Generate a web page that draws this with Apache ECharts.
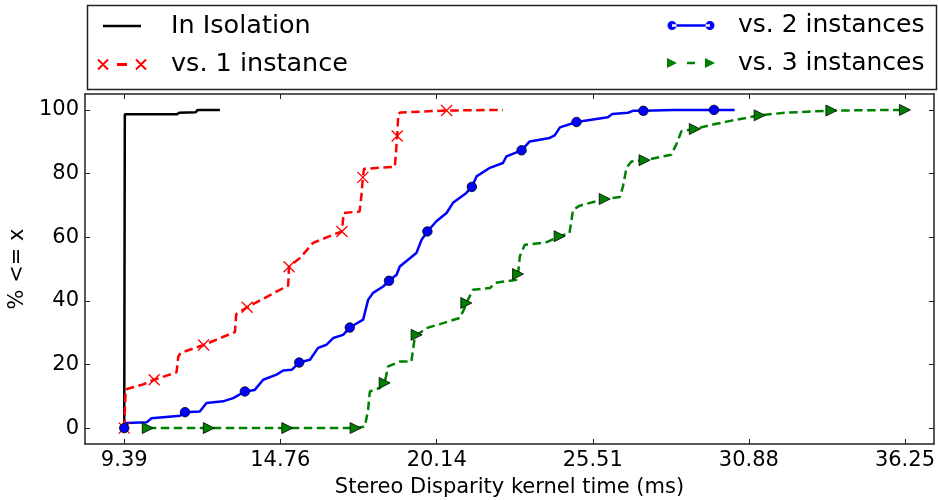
<!DOCTYPE html>
<html>
<head>
<meta charset="utf-8">
<title>Stereo Disparity kernel time</title>
<script src="https://cdn.jsdelivr.net/npm/echarts@6/dist/echarts.min.js"></script>
<style>
  html, body { margin: 0; padding: 0; background: #fff; }
  #chart { width: 938px; height: 500px; }
</style>
</head>
<body>
<div id="chart"></div>
<script>
// axis ticks
const xTicks = [9.39, 14.76, 20.14, 25.51, 30.88, 36.25];
const yTicks = [0, 20, 40, 60, 80, 100];

const names = ["In Isolation", "vs. 1 instance", "vs. 2 instances", "vs. 3 instances"];

// [time (ms), % <= x]
const isolation = [
  [9.39, 0], [9.41, 98.6], [11.2, 98.6], [11.28, 99.1], [11.85, 99.3], [11.92, 100], [12.68, 100]
];
const oneInstance = [
  [9.39, 0], [9.44, 12.2], [10.0, 13.6], [10.42, 15.2], [11.19, 17.5], [11.25, 22.5], [11.34, 23.7],
  [12.12, 26.1], [13.2, 30.2], [13.24, 35.8], [13.62, 38.0], [15.03, 44.8], [15.06, 50.7],
  [15.44, 53.5], [15.89, 58.2], [16.58, 60.8], [16.88, 61.8], [16.94, 67.6], [17.49, 68.1],
  [17.56, 74.0], [17.6, 78.8], [17.64, 81.5], [18.7, 82.1], [18.75, 88.0], [18.78, 91.8],
  [18.82, 98.8], [18.9, 99.2], [20.48, 99.8], [22.42, 100]
];
const twoInstances = [
  [9.39, 0], [9.47, 1.6], [10.16, 1.8], [10.33, 3.1], [11.31, 3.9], [11.48, 5.0], [11.99, 5.2],
  [12.22, 7.9], [12.79, 8.4], [13.14, 9.4], [13.54, 11.5], [13.88, 12.0], [14.17, 15.2],
  [14.63, 16.8], [14.86, 18.1], [15.15, 18.3], [15.41, 20.6], [15.78, 21.5], [16.06, 25.2],
  [16.35, 26.2], [16.58, 28.3], [16.92, 29.3], [17.15, 31.6], [17.61, 34.1], [17.78, 40.3],
  [17.95, 42.5], [18.3, 44.5], [18.5, 46.3], [18.76, 48.2], [18.87, 50.8], [19.44, 55.0],
  [19.62, 59.2], [19.82, 61.8], [20.13, 65.0], [20.48, 67.6], [20.7, 70.8], [21.16, 73.9],
  [21.35, 75.8], [21.51, 79.1], [21.97, 81.8], [22.42, 83.3], [22.54, 85.4], [23.06, 87.3],
  [23.34, 90.1], [24.03, 91.2], [24.2, 92.0], [24.38, 94.5], [24.95, 96.2], [26.03, 97.7],
  [26.18, 98.7], [26.72, 99.1], [26.89, 99.7], [27.25, 99.7], [28.27, 100], [29.68, 100], [30.39, 100]
];
const threeInstances = [
  [10.2, 0], [12.3, 0], [15.0, 0], [17.35, 0], [17.67, 0.5], [17.78, 5.8], [17.84, 11.5],
  [18.18, 12.6], [18.35, 14.2], [18.47, 19.4], [18.87, 20.9], [19.27, 20.9], [19.39, 28.8],
  [19.45, 29.3], [19.79, 31.4], [20.36, 33.0], [20.93, 34.6], [21.1, 37.7], [21.16, 39.3],
  [21.39, 43.5], [21.97, 44.0], [22.14, 45.6], [22.88, 46.6], [22.94, 48.4], [23.0, 54.0],
  [23.17, 57.6], [23.91, 58.4], [24.37, 60.3], [24.71, 61.3], [24.83, 68.6], [25.06, 69.9],
  [25.92, 72.0], [26.44, 72.6], [26.55, 76.0], [26.67, 81.8], [26.84, 83.8], [27.29, 84.2],
  [28.21, 85.9], [28.38, 89.1], [28.56, 93.3], [29.02, 94.0], [29.64, 95.4], [30.16, 96.4],
  [31.25, 98.3], [32.11, 99.1], [33.72, 99.8], [36.25, 100]
];

// which points get a marker
const oneMarks = [0, 3, 7, 10, 12, 16, 20, 24, 27];
const twoMarks = [0, 5, 10, 16, 22, 27, 32, 37, 42, 47, 52, 54];
const threeMarks = [0, 1, 2, 3, 8, 13, 18, 23, 27, 31, 36, 40, 43, 45, 46];

function withMarks(points, marks) {
  return points.map((p, i) => (marks.indexOf(i) >= 0 ? { value: p } : { value: p, symbol: "none" }));
}

const font = "DejaVu Sans";
const frame = "#222";
const dash = [8.5, 4.5];

let myChart = echarts.init(document.getElementById("chart"));

let option = {
  animation: false,
  backgroundColor: "#fff",
  textStyle: { fontFamily: font, color: "#000" },
  grid: { left: 85, right: 4, top: 94, bottom: 56, containLabel: false, outerBoundsMode: "none" },
  graphic: [
    {
      type: "rect",
      left: 85,
      top: 3,
      silent: true,
      shape: { width: 849, height: 84 },
      style: { fill: "none", stroke: frame, lineWidth: 1.5 },
    },
  ],
  legend: [
    {
      orient: "vertical",
      left: 96,
      top: 13,
      padding: 0,
      itemWidth: 50,
      itemHeight: 12,
      itemGap: 12.5,
      textStyle: { fontFamily: font, fontSize: 25.5, lineHeight: 25, color: "#000", padding: [0, 0, 0, 19] },
      data: [
        { name: names[0], icon: "path://M0,0M50,12M6,4.8L44,4.8L44,7.2L6,7.2Z" },
        { name: names[1], icon: "path://M0,0M50,12M1,1L11,11M1,11L11,1M39,1L49,11M39,11L49,1M21,5.4L29,5.4L29,6.6L21,6.6Z" },
      ],
    },
    {
      orient: "vertical",
      left: 666,
      top: 13,
      padding: 0,
      itemWidth: 50,
      itemHeight: 12,
      itemGap: 12.5,
      textStyle: { fontFamily: font, fontSize: 25, lineHeight: 25, color: "#000", padding: [0, 0, 0, 17] },
      data: [
        {
          name: names[2],
          icon: "path://M0,0M50,12M1.5,6A4.5,4.5 0 1,0 10.5,6A4.5,4.5 0 1,0 1.5,6ZM6,4.8L44,4.8L44,7.2L6,7.2ZM39.5,6A4.5,4.5 0 1,0 48.5,6A4.5,4.5 0 1,0 39.5,6Z",
          itemStyle: { borderWidth: 0 },
        },
        {
          name: names[3],
          icon: "path://M0,0M50,12M1,1L11,6L1,11ZM21,4.8L29,4.8L29,7.2L21,7.2ZM39,1L49,6L39,11Z",
          itemStyle: { borderWidth: 0 },
        },
      ],
    },
  ],
  xAxis: [
    {
      type: "value",
      min: 8.04,
      max: 37.25,
      name: "Stereo Disparity kernel time (ms)",
      nameLocation: "middle",
      nameGap: 33,
      nameTextStyle: { fontFamily: font, fontSize: 21, color: "#000" },
      axisLine: { onZero: false, lineStyle: { color: frame, width: 1.5 } },
      axisTick: { inside: true, length: 5, customValues: xTicks, lineStyle: { color: frame } },
      axisLabel: {
        customValues: xTicks,
        margin: 6,
        fontFamily: font,
        fontSize: 21,
        color: "#000",
        formatter: (v) => v.toFixed(2),
      },
      splitLine: { show: false },
    },
    {
      type: "value",
      position: "top",
      min: 8.04,
      max: 37.25,
      axisLine: { onZero: false, lineStyle: { color: frame, width: 1.5 } },
      axisTick: { inside: true, length: 5, customValues: xTicks, lineStyle: { color: frame } },
      axisLabel: { show: false },
      splitLine: { show: false },
    },
  ],
  yAxis: [
    {
      type: "value",
      min: -5,
      max: 105,
      name: "% <= x",
      nameLocation: "middle",
      nameRotate: 90,
      nameGap: 52,
      nameTextStyle: { fontFamily: font, fontSize: 21, color: "#000" },
      axisLine: { show: true, onZero: false, lineStyle: { color: frame, width: 1.5 } },
      axisTick: { show: true, inside: true, length: 5, customValues: yTicks, lineStyle: { color: frame } },
      axisLabel: { customValues: yTicks, margin: 6, fontFamily: font, fontSize: 21, color: "#000" },
      splitLine: { show: false },
    },
    {
      type: "value",
      position: "right",
      min: -5,
      max: 105,
      axisLine: { show: true, onZero: false, lineStyle: { color: frame, width: 1.5 } },
      axisTick: { show: true, inside: true, length: 5, customValues: yTicks, lineStyle: { color: frame } },
      axisLabel: { show: false },
      splitLine: { show: false },
    },
  ],
  series: [
    {
      name: names[0],
      type: "line",
      data: isolation,
      symbol: "none",
      lineStyle: { color: "#000", width: 2.5 },
      itemStyle: { color: "#000" },
    },
    {
      name: names[1],
      type: "line",
      data: withMarks(oneInstance, oneMarks),
      symbol: "path://M0,0L10,10M0,10L10,0",
      symbolSize: 11,
      lineStyle: { color: "#ff0000", width: 2.5, type: dash },
      itemStyle: { color: "#ff0000", borderColor: "#ff0000", borderWidth: 1.3 },
    },
    {
      name: names[2],
      type: "line",
      data: withMarks(twoInstances, twoMarks),
      symbol: "circle",
      symbolSize: 9.5,
      lineStyle: { color: "#0000ff", width: 2.5 },
      itemStyle: { color: "#0000ff", borderColor: "#000", borderWidth: 0.8 },
    },
    {
      name: names[3],
      type: "line",
      data: withMarks(threeInstances, threeMarks),
      symbol: "path://M0,0L10,5L0,10Z",
      symbolSize: 11,
      lineStyle: { color: "#008000", width: 2.5, type: dash },
      itemStyle: { color: "#008000", borderColor: "#000", borderWidth: 0.8 },
    },
  ],
};

myChart.setOption(option);
</script>
</body>
</html>
